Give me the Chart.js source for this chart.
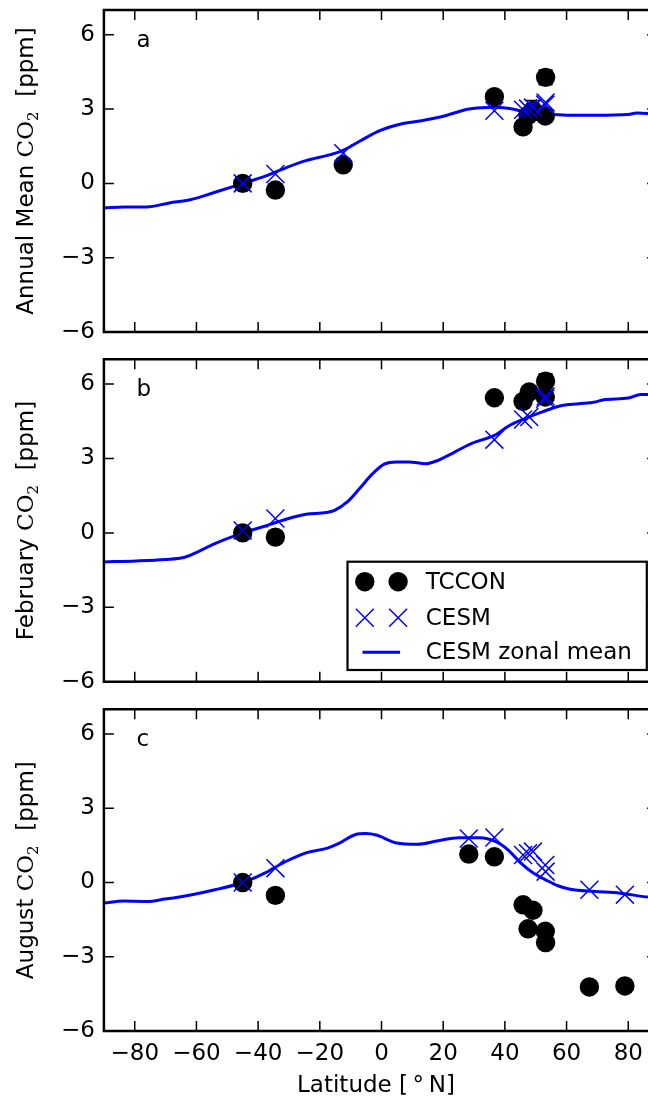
<!DOCTYPE html>
<html lang="en">
<head>
<meta charset="UTF-8">
<meta name="viewport" content="width=device-width, initial-scale=1.0">
<title>TCCON vs CESM CO2 by latitude</title>
<script src="https://cdn.jsdelivr.net/npm/chart.js"></script>
<style>
    html, body { margin: 0; padding: 0; background: #fff; overflow: hidden; }
    body { width: 648px; height: 1100px; position: relative; }
    .panel { position: absolute; left: 0; width: 648px; }
    canvas { display: block; }
</style>
</head>
<body>
<div class="panel" style="top:0px"><canvas id="chartA" width="648" height="340"></canvas></div>
<div class="panel" style="top:350px"><canvas id="chartB" width="648" height="340"></canvas></div>
<div class="panel" style="top:700px"><canvas id="chartC" width="648" height="400"></canvas></div>

<script>
// axis ticks / range (the original figure is cropped just short of 90N)
const xTicks = [-80, -60, -40, -20, 0, 20, 40, 60, 80];
const yTicks = [-6, -3, 0, 3, 6];
const xMin = -90, xMax = 86.4, xFrame = 90;

// (a) annual mean
const latTcconA = [-45.0, -34.4, -12.4, 36.6, 45.9, 47.5, 49.1, 53.1, 53.2];
const tcconA    = [0.0, -0.27, 0.75, 3.50, 2.28, 2.75, 2.95, 2.72, 4.28];
const errA      = [0.15, 0.15, 0.2, 0.2, 0.15, 0.2, 0.4, 0.2, 0.3];
const latCesmA  = [-45.0, -34.4, -12.4, 36.6, 45.9, 47.5, 49.1, 53.1, 53.2];
const cesmA     = [0.0, 0.38, 1.22, 2.93, 2.97, 3.02, 3.06, 3.18, 3.27];
const latMeanA  = [-90, -83.5, -76.1, -68.8, -62.0, -54.0, -44.9, -37.9, -31.2, -24.5, -16.5, -12.5, -7.1, -0.4,
                   6.3, 13.0, 19.7, 28.4, 37.1, 42.5, 47.8, 53.2, 61.2, 69.3, 80.0, 82.7, 86.4, 90];
const meanA     = [-0.99, -0.95, -0.95, -0.79, -0.66, -0.36, 0.0, 0.28, 0.62, 0.92, 1.16, 1.33, 1.70, 2.14,
                   2.40, 2.53, 2.70, 3.00, 3.07, 3.00, 2.84, 2.80, 2.75, 2.75, 2.78, 2.84, 2.82, 2.82];

// (b) February
const latTcconB = [-45.0, -34.4, 36.6, 45.9, 47.9, 53.1, 53.2];
const tcconB    = [0.0, -0.17, 5.45, 5.30, 5.68, 5.48, 6.12];
const errB      = [0.15, 0.15, 0.2, 0.2, 0.2, 0.2, 0.3];
const latCesmB  = [-45.0, -34.4, 36.6, 45.9, 47.9, 53.1, 53.2];
const cesmB     = [0.1, 0.58, 3.76, 4.57, 4.67, 5.41, 5.50];
const latMeanB  = [-90, -79.5, -70.2, -64.1, -60.7, -54.0, -44.9, -37.9, -31.2, -24.5, -17.8, -15.2, -11.1, -7.1,
                   -3.1, 0.9, 4.9, 9.0, 14.3, 18.4, 23.7, 29.1, 37.1, 41.1, 46.5, 51.9, 58.5, 63.9, 69.3, 72.0,
                   80.0, 84.0, 86.4, 90];
const meanB     = [-1.17, -1.13, -1.07, -0.99, -0.83, -0.43, 0.0, 0.27, 0.54, 0.75, 0.82, 0.91, 1.25, 1.79,
                   2.36, 2.77, 2.86, 2.86, 2.79, 2.93, 3.26, 3.60, 3.96, 4.30, 4.61, 4.87, 5.14, 5.21, 5.28, 5.37,
                   5.44, 5.58, 5.58, 5.56];

// (c) August
const latTcconC = [-45.0, -34.4, 28.3, 36.6, 45.9, 49.1, 47.5, 53.1, 53.2, 67.4, 78.9];
const tcconC    = [0.0, -0.52, 1.15, 1.04, -0.90, -1.12, -1.87, -1.97, -2.43, -4.22, -4.18];
const errC      = [0.15, 0.15, 0.2, 0.2, 0.2, 0.2, 0.2, 0.2, 0.2, 0.2, 0.2];
const latCesmC  = [-45.0, -34.4, 28.3, 36.6, 45.9, 47.5, 49.1, 53.1, 53.2, 67.4, 78.9];
const cesmC     = [0.0, 0.58, 1.78, 1.82, 1.11, 1.18, 1.25, 0.71, 0.44, -0.29, -0.49];
const latMeanC  = [-90, -83.5, -76.1, -70.2, -60.7, -54.0, -44.9, -37.9, -31.2, -24.5, -17.8, -13.8, -8.4, -5.1,
                   -1.7, 4.9, 11.7, 18.4, 25.0, 31.8, 37.1, 41.1, 45.2, 49.2, 53.2, 57.2, 61.2, 69.3, 77.3, 86.4, 90];
const meanC     = [-0.83, -0.75, -0.77, -0.67, -0.47, -0.29, 0.0, 0.38, 0.84, 1.20, 1.38, 1.58, 1.94, 1.98,
                   1.92, 1.60, 1.55, 1.69, 1.81, 1.81, 1.65, 1.31, 0.78, 0.38, 0.11, -0.13, -0.27, -0.36, -0.43, -0.59, -0.62];

const FONT = 'DejaVu Sans';
const FS = 23;
const BLUE = '#0000ff';

function minus(v) { return String(v).replace('-', '\u2212'); }
function pts(xs, ys) { return xs.map((x, i) => ({ x: x, y: ys[i] })); }

// vertical error bars under the TCCON circles
const errorBars = {
    id: 'errorBars',
    beforeDatasetsDraw(chart) {
        const ctx = chart.ctx, ys = chart.scales.y;
        chart.data.datasets.forEach((ds, i) => {
            if (!ds.errors) return;
            const meta = chart.getDatasetMeta(i);
            ctx.save();
            ctx.strokeStyle = '#000';
            ctx.lineWidth = 1.5;
            meta.data.forEach((el, j) => {
                const v = ds.data[j].y, e = ds.errors[j];
                const y1 = ys.getPixelForValue(v + e), y2 = ys.getPixelForValue(v - e);
                ctx.beginPath();
                ctx.moveTo(el.x, y1); ctx.lineTo(el.x, y2);
                ctx.moveTo(el.x - 7, y1); ctx.lineTo(el.x + 7, y1);
                ctx.moveTo(el.x - 7, y2); ctx.lineTo(el.x + 7, y2);
                ctx.stroke();
            });
            ctx.restore();
        });
    }
};

// box frame with inward ticks; right spine sits at 90N, just past the crop
const frame = {
    id: 'frame',
    afterDatasetsDraw(chart) {
        const ctx = chart.ctx, a = chart.chartArea;
        const xs = chart.scales.x, ys = chart.scales.y;
        const right = xs.getPixelForValue(xFrame);
        ctx.save();
        ctx.strokeStyle = '#000';
        ctx.lineWidth = 1.5;
        ctx.beginPath();
        xTicks.forEach(v => {
            const px = xs.getPixelForValue(v);
            ctx.moveTo(px, a.bottom); ctx.lineTo(px, a.bottom - 10);
            ctx.moveTo(px, a.top); ctx.lineTo(px, a.top + 10);
        });
        yTicks.forEach(v => {
            const py = ys.getPixelForValue(v);
            ctx.moveTo(a.left, py); ctx.lineTo(a.left + 10, py);
            ctx.moveTo(right, py); ctx.lineTo(right - 12, py);
        });
        ctx.stroke();
        ctx.lineWidth = 2.5;
        ctx.beginPath();
        ctx.moveTo(right, a.top); ctx.lineTo(a.left, a.top);
        ctx.lineTo(a.left, a.bottom); ctx.lineTo(right, a.bottom);
        ctx.lineTo(right, a.top);
        ctx.stroke();
        ctx.restore();
    }
};

// y label with math-style CO2, panel letter and legend
const decor = {
    id: 'decor',
    afterDraw(chart, args, opts) {
        const ctx = chart.ctx, a = chart.chartArea;
        ctx.save();
        ctx.fillStyle = '#000';
        ctx.textBaseline = 'alphabetic';

        const parts = [
            { t: opts.ylabel + ' ', f: FS + 'px "' + FONT + '"', dy: 0 },
            { t: 'CO', f: FS + 'px "DejaVu Serif"', dy: 0 },
            { t: '2', f: '15px "DejaVu Serif"', dy: 5 },
            { t: '  [ppm]', f: FS + 'px "' + FONT + '"', dy: 0 }
        ];
        let total = 0;
        parts.forEach(p => { ctx.font = p.f; p.w = ctx.measureText(p.t).width; total += p.w; });
        ctx.save();
        ctx.translate(33, (a.top + a.bottom) / 2);
        ctx.rotate(-Math.PI / 2);
        let x = -total / 2;
        parts.forEach(p => { ctx.font = p.f; ctx.fillText(p.t, x, p.dy); x += p.w; });
        ctx.restore();

        ctx.font = FS + 'px "' + FONT + '"';
        ctx.fillText(opts.letter, a.left + 32.6, a.top + 37);

        if (opts.legend) drawLegend(chart);
        ctx.restore();
    }
};

function drawLegend(chart) {
    const ctx = chart.ctx, a = chart.chartArea;
    const right = chart.scales.x.getPixelForValue(xFrame);
    const w = 299.3, h = 108.3;
    const bx = right - 12.3 - w, by = a.bottom - 11.7 - h;
    ctx.save();
    ctx.fillStyle = '#fff';
    ctx.fillRect(bx, by, w, h);
    ctx.strokeStyle = '#000';
    ctx.lineWidth = 2.2;
    ctx.strokeRect(bx, by, w, h);

    const rows = [20, 56, 90.6];
    const mx = [17.3, 50.6];
    chart.data.datasets.forEach((ds, i) => {
        const cy = by + rows[i];
        if (ds.showLine) {
            ctx.strokeStyle = ds.borderColor;
            ctx.lineWidth = ds.borderWidth;
            ctx.beginPath();
            ctx.moveTo(bx + 15, cy); ctx.lineTo(bx + 52.6, cy);
            ctx.stroke();
        } else if (ds.pointStyle === 'circle') {
            ctx.fillStyle = ds.backgroundColor;
            mx.forEach(m => {
                ctx.beginPath();
                ctx.arc(bx + m, cy, ds.pointRadius, 0, Math.PI * 2);
                ctx.fill();
            });
        } else {
            const d = ds.pointRadius * Math.SQRT1_2;
            ctx.strokeStyle = ds.borderColor;
            ctx.lineWidth = ds.borderWidth;
            ctx.beginPath();
            mx.forEach(m => {
                const px = bx + m;
                ctx.moveTo(px - d, cy - d); ctx.lineTo(px + d, cy + d);
                ctx.moveTo(px - d, cy + d); ctx.lineTo(px + d, cy - d);
            });
            ctx.stroke();
        }
        ctx.fillStyle = '#000';
        ctx.font = FS + 'px "' + FONT + '"';
        ctx.textBaseline = 'middle';
        ctx.fillText(ds.label, bx + 78.3, cy + 1);
    });
    ctx.restore();
}

function makeChart(id, p) {
    const font = { family: FONT, size: FS };
    return new Chart(document.getElementById(id), {
        type: 'scatter',
        data: {
            datasets: [
                {
                    label: 'TCCON',
                    data: pts(p.latT, p.tccon),
                    errors: p.err,
                    pointStyle: 'circle',
                    pointRadius: 9.7,
                    backgroundColor: '#000',
                    borderColor: '#000',
                    borderWidth: 0,
                    order: 2
                },
                {
                    label: 'CESM',
                    data: pts(p.latC, p.cesm),
                    pointStyle: 'crossRot',
                    pointRadius: 12.7,
                    borderColor: BLUE,
                    backgroundColor: BLUE,
                    borderWidth: 1.5,
                    order: 1
                },
                {
                    label: 'CESM zonal mean',
                    data: pts(p.latM, p.mean),
                    showLine: true,
                    borderColor: BLUE,
                    borderWidth: 3,
                    pointRadius: 0,
                    cubicInterpolationMode: 'monotone',
                    order: 3
                }
            ]
        },
        options: {
            responsive: false,
            animation: false,
            events: [],
            layout: { padding: p.padding, autoPadding: false },
            plugins: {
                legend: { display: false },
                tooltip: { enabled: false },
                decor: { ylabel: p.ylabel, letter: p.letter, legend: p.legend }
            },
            scales: {
                x: {
                    type: 'linear',
                    min: xMin, max: xMax,
                    display: p.showX,
                    afterBuildTicks: s => { s.ticks = xTicks.map(v => ({ value: v })); },
                    afterFit: s => {
                        s.height = p.showX ? 69 : 0;
                        s.paddingLeft = 0; s.paddingRight = 0;
                    },
                    grid: { display: false, drawTicks: false },
                    border: { display: false },
                    ticks: { callback: minus, font: font, color: '#000', padding: 9, maxRotation: 0, autoSkip: false },
                    title: { display: true, text: 'Latitude [\u2009\u00b0\u2009N]', font: font, color: '#000', padding: 0 }
                },
                y: {
                    type: 'linear',
                    min: -6, max: 7,
                    afterBuildTicks: s => { s.ticks = yTicks.map(v => ({ value: v })); },
                    afterFit: s => {
                        s.width = 103.9;
                        s.paddingTop = 0; s.paddingBottom = 0;
                    },
                    grid: { display: false, drawTicks: false },
                    border: { display: false },
                    ticks: { callback: minus, font: font, color: '#000', padding: 9 }
                }
            }
        },
        plugins: [errorBars, frame, decor]
    });
}

makeChart('chartA', {
    latT: latTcconA, tccon: tcconA, err: errA, latC: latCesmA, cesm: cesmA, latM: latMeanA, mean: meanA,
    ylabel: 'Annual Mean', letter: 'a', legend: false, showX: false,
    padding: { top: 10, bottom: 8, left: 0, right: 0 }
});
makeChart('chartB', {
    latT: latTcconB, tccon: tcconB, err: errB, latC: latCesmB, cesm: cesmB, latM: latMeanB, mean: meanB,
    ylabel: 'February', letter: 'b', legend: true, showX: false,
    padding: { top: 9.3, bottom: 8.3, left: 0, right: 0 }
});
makeChart('chartC', {
    latT: latTcconC, tccon: tcconC, err: errC, latC: latCesmC, cesm: cesmC, latM: latMeanC, mean: meanC,
    ylabel: 'August', letter: 'c', legend: false, showX: true,
    padding: { top: 9.3, bottom: 0, left: 0, right: 0 }
});
</script>
</body>
</html>
